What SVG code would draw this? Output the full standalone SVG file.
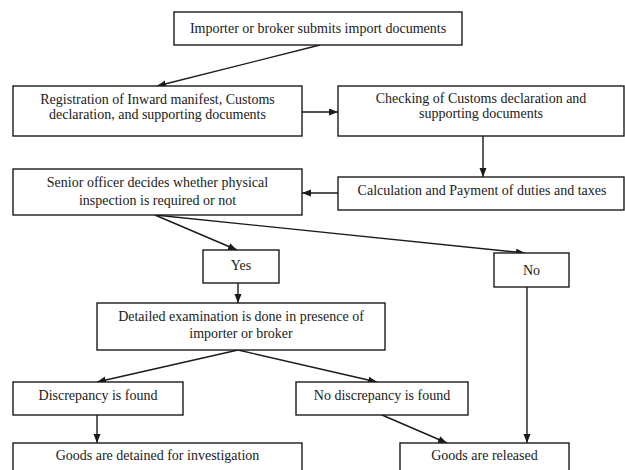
<svg xmlns="http://www.w3.org/2000/svg" width="625" height="470" viewBox="0 0 625 470">
<style>
.box{fill:#fff;stroke:#1a1a1a;stroke-width:1.4}
.t{font-family:"Liberation Serif","Times New Roman",serif;font-size:14px;fill:#1a1a1a;text-anchor:middle}
.c{stroke:#1a1a1a;stroke-width:1.4;fill:none;marker-end:url(#ah)}
</style>
<defs>
<marker id="ah" markerUnits="userSpaceOnUse" markerWidth="10" markerHeight="8" refX="9" refY="3.5" orient="auto">
<path d="M0,0 L9,3.5 L0,7 z" fill="#1a1a1a"/>
</marker>
</defs>
<rect width="625" height="470" fill="#fff"/>
<g id="connectors">
<line class="c" x1="320" y1="45" x2="157" y2="86"/>
<line class="c" x1="302" y1="112" x2="338" y2="112"/>
<line class="c" x1="483" y1="136" x2="483" y2="177"/>
<line class="c" x1="338" y1="193" x2="302" y2="193"/>
<line class="c" x1="155" y1="215" x2="237" y2="250"/>
<line class="c" x1="155" y1="215" x2="525" y2="253"/>
<line class="c" x1="238" y1="283" x2="238" y2="303"/>
<line class="c" x1="238" y1="350" x2="97" y2="382"/>
<line class="c" x1="238" y1="350" x2="377" y2="382"/>
<line class="c" x1="97" y1="415" x2="97" y2="443"/>
<line class="c" x1="382" y1="415" x2="447" y2="443"/>
<line class="c" x1="527" y1="287" x2="527" y2="443"/>
</g>
<g id="n1"><rect class="box" x="174" y="12" width="288" height="33"/><text class="t" x="318" y="33">Importer or broker submits import documents</text></g>
<g id="n2"><rect class="box" x="13" y="86" width="289" height="50"/><text class="t" x="157.5" y="104">Registration of Inward manifest, Customs</text><text class="t" x="157.5" y="119">declaration, and supporting documents</text></g>
<g id="n3"><rect class="box" x="338" y="86" width="286" height="50"/><text class="t" x="481" y="103">Checking of Customs declaration and</text><text class="t" x="481" y="118">supporting documents</text></g>
<g id="n4"><rect class="box" x="13" y="169" width="289" height="46"/><text class="t" x="157.5" y="187">Senior officer decides whether physical</text><text class="t" x="157.5" y="205">inspection is required or not</text></g>
<g id="n5"><rect class="box" x="338" y="177" width="286" height="33"/><text class="t" x="482" y="195">Calculation and Payment of duties and taxes</text></g>
<g id="n6"><rect class="box" x="203" y="250" width="76" height="33"/><text class="t" x="241" y="270">Yes</text></g>
<g id="n7"><rect class="box" x="494" y="253" width="75" height="34"/><text class="t" x="531.5" y="275">No</text></g>
<g id="n8"><rect class="box" x="97" y="303" width="288" height="47"/><text class="t" x="241" y="321">Detailed examination is done in presence of</text><text class="t" x="241" y="338">importer or broker</text></g>
<g id="n9"><rect class="box" x="13" y="382" width="170" height="33"/><text class="t" x="98" y="400">Discrepancy is found</text></g>
<g id="n10"><rect class="box" x="296" y="382" width="172" height="33"/><text class="t" x="382" y="400">No discrepancy is found</text></g>
<g id="n11"><rect class="box" x="13" y="443" width="289" height="40"/><text class="t" x="157.5" y="460">Goods are detained for investigation</text></g>
<g id="n12"><rect class="box" x="400" y="443" width="169" height="40"/><text class="t" x="484.5" y="460">Goods are released</text></g>
</svg>
